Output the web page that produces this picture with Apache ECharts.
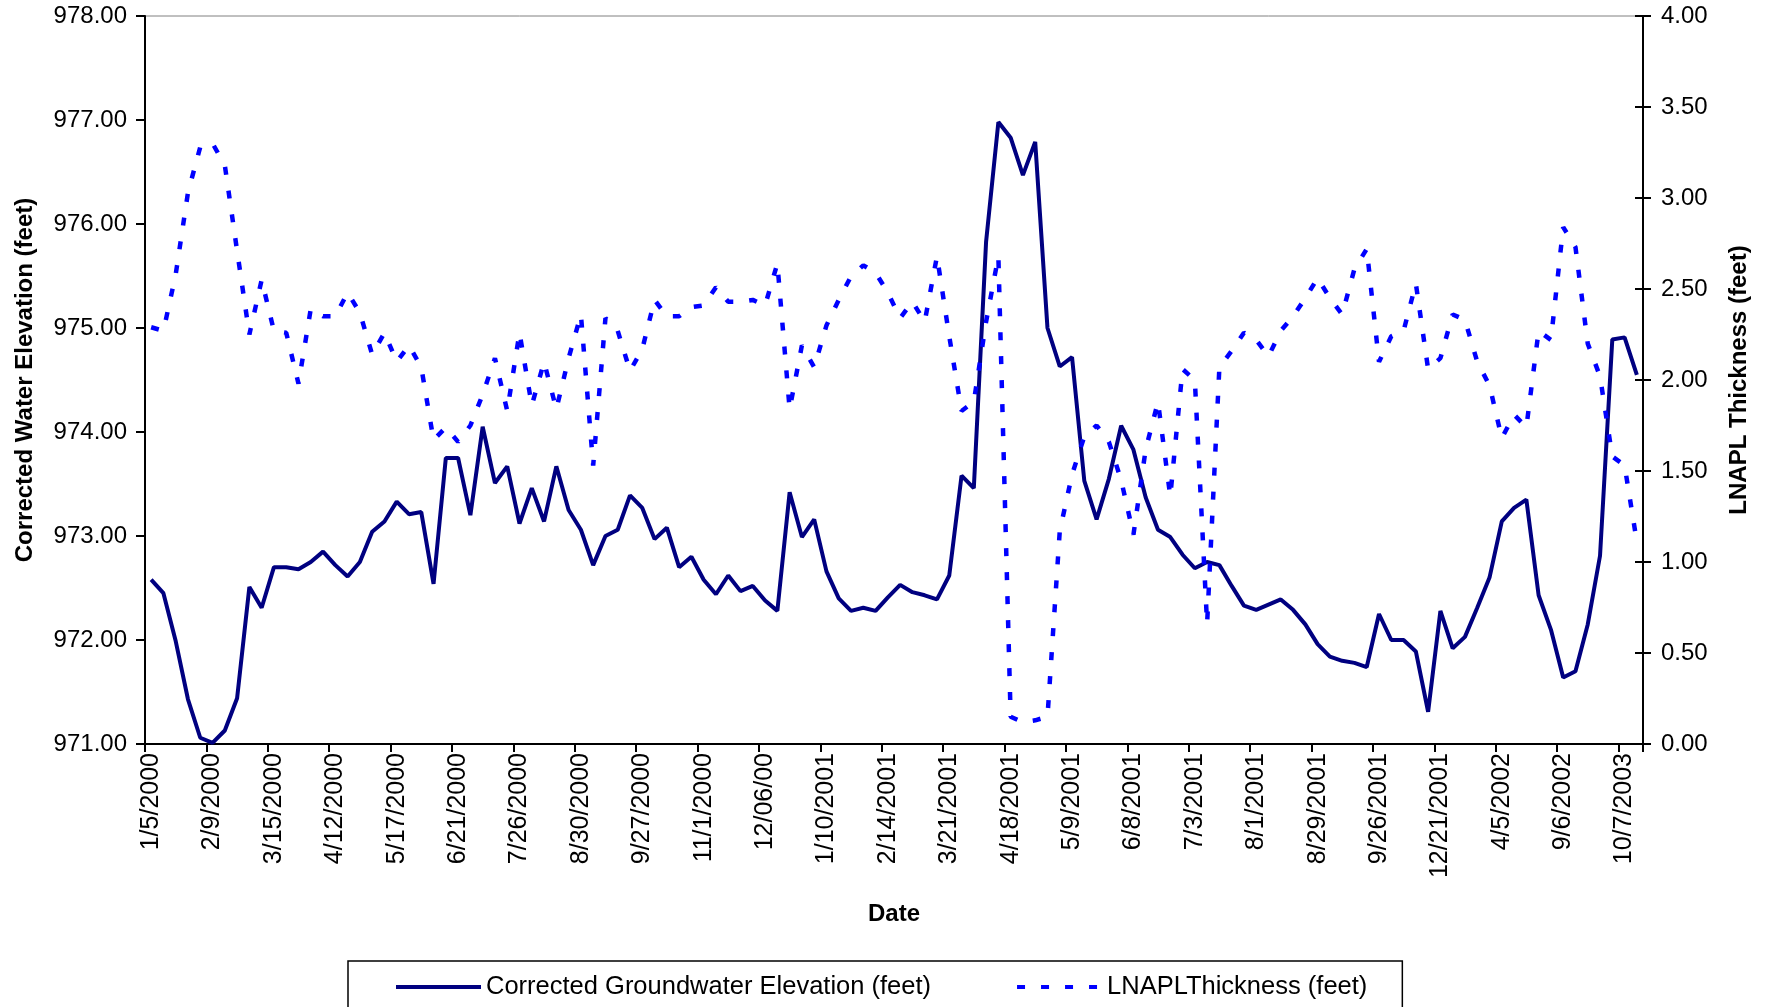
<!DOCTYPE html>
<html>
<head>
<meta charset="utf-8">
<script src="https://cdn.jsdelivr.net/npm/echarts@6/dist/echarts.min.js"></script>
<style>
html,body{margin:0;padding:0;background:#fff;}
#c{width:1767px;height:1007px;}
</style>
</head>
<body>
<div id="c"></div>
<script>
// Tick labels shown every 5th sampling event
const tickLabels = ['1/5/2000','2/9/2000','3/15/2000','4/12/2000','5/17/2000','6/21/2000','7/26/2000','8/30/2000','9/27/2000','11/1/2000','12/06/00','1/10/2001','2/14/2001','3/21/2001','4/18/2001','5/9/2001','6/8/2001','7/3/2001','8/1/2001','8/29/2001','9/26/2001','12/21/2001','4/5/2002','9/6/2002','10/7/2003'];

// Corrected groundwater elevation (feet), one value per sampling event
const elevation = [
972.58,972.45,971.99,971.43,971.06,971.01,971.13,971.44,972.51,972.31,
972.70,972.70,972.68,972.75,972.85,972.72,972.61,972.75,973.04,973.14,
973.33,973.21,973.23,972.54,973.75,973.75,973.20,974.05,973.51,973.67,
973.12,973.46,973.14,973.67,973.25,973.06,972.72,973.00,973.06,973.39,
973.27,972.97,973.08,972.70,972.80,972.58,972.44,972.62,972.47,972.52,
972.38,972.28,973.42,972.99,973.16,972.66,972.40,972.28,972.31,972.28,
972.41,972.53,972.46,972.43,972.39,972.62,973.58,973.46,975.83,976.98,
976.83,976.47,976.79,975.00,974.63,974.72,973.53,973.16,973.55,974.06,
973.83,973.37,973.06,972.99,972.82,972.69,972.75,972.72,972.52,972.33,
972.29,972.34,972.39,972.29,972.15,971.96,971.84,971.80,971.78,971.74,
972.25,972.00,972.00,971.89,971.31,972.28,971.92,972.03,972.31,972.60,
973.14,973.27,973.35,972.43,972.10,971.64,971.70,972.15,972.81,974.89,
974.91,974.55];

// LNAPL thickness (feet)
const lnapl = [
2.29,2.27,2.58,3.03,3.28,3.30,3.18,2.71,2.25,2.55,
2.27,2.26,1.98,2.39,2.35,2.35,2.48,2.37,2.14,2.26,
2.10,2.19,2.07,1.67,1.74,1.66,1.75,1.92,2.12,1.83,
2.26,1.86,2.10,1.84,2.12,2.36,1.53,2.34,2.27,2.05,
2.17,2.44,2.35,2.35,2.40,2.41,2.51,2.43,2.43,2.44,
2.41,2.64,1.84,2.19,2.07,2.30,2.44,2.57,2.63,2.59,
2.48,2.34,2.43,2.32,2.68,2.24,1.83,1.88,2.32,2.68,
0.15,0.12,0.13,0.15,1.17,1.48,1.69,1.75,1.66,1.45,
1.15,1.62,1.88,1.36,2.06,2.00,0.66,2.07,2.16,2.26,
2.22,2.13,2.27,2.35,2.45,2.56,2.45,2.36,2.61,2.72,
2.10,2.24,2.27,2.53,2.06,2.12,2.36,2.33,2.10,1.97,
1.68,1.81,1.74,2.27,2.22,2.84,2.73,2.20,2.02,1.58,
1.53,1.11];

const labelEvery = 5;
const categories = elevation.map((_, i) => String(i));

const FONT = 'Liberation Sans, Arial, sans-serif';
const chart = echarts.init(document.getElementById('c'), null, {renderer: 'canvas'});

const yCommon = {
  type: 'value',
  axisLine: {show: true, lineStyle: {color: '#000', width: 2}},
  axisTick: {show: true, length: 9, lineStyle: {color: '#000', width: 2}},
  splitLine: {show: false},
  axisLabel: {color: '#000', fontFamily: FONT, fontSize: 24, margin: 18},
  nameLocation: 'middle',
  nameRotate: 90,
  nameTextStyle: {color: '#000', fontFamily: FONT, fontSize: 24, fontWeight: 'bold'}
};

chart.setOption({
  animation: false,
  backgroundColor: '#fff',
  grid: {left: 145, right: 124, top: 16, bottom: 263, show: true, borderColor: '#808080', borderWidth: 1, backgroundColor: 'transparent'},
  legend: {
    left: 348, top: 961,
    padding: [13, 35, 40, 46],
    itemGap: 84,
    itemWidth: 85, itemHeight: 14,
    borderColor: '#000', borderWidth: 1.5,
    itemStyle: {opacity: 0},
    lineStyle: {width: 4},
    textStyle: {color: '#000', fontFamily: FONT, fontSize: 25.5},
    data: ['Corrected Groundwater Elevation (feet)', 'LNAPLThickness (feet)']
  },
  xAxis: {
    type: 'category',
    data: categories,
    boundaryGap: true,
    name: 'Date',
    nameLocation: 'middle',
    nameGap: 158,
    nameTextStyle: {color: '#000', fontFamily: FONT, fontSize: 24, fontWeight: 'bold'},
    axisLine: {show: true, lineStyle: {color: '#000', width: 2}},
    axisTick: {show: true, interval: labelEvery - 1, length: 8, lineStyle: {color: '#000', width: 2}},
    axisLabel: {
      interval: labelEvery - 1, rotate: 90, margin: 9,
      color: '#000', fontFamily: FONT, fontSize: 25,
      formatter: (v, idx) => (idx % labelEvery === 0 ? tickLabels[idx / labelEvery] : '')
    },
    splitLine: {show: false}
  },
  yAxis: [
    Object.assign({}, yCommon, {
      position: 'left', min: 971, max: 978, interval: 1,
      name: 'Corrected Water Elevation (feet)', nameGap: 108,
      axisLabel: Object.assign({}, yCommon.axisLabel, {formatter: v => v.toFixed(2)})
    }),
    Object.assign({}, yCommon, {
      position: 'right', min: 0, max: 4, interval: 0.5,
      name: 'LNAPL Thickness (feet)', nameGap: 84,
      axisTick: {show: true, length: 8, lineStyle: {color: '#000', width: 2}},
      axisLabel: Object.assign({}, yCommon.axisLabel, {formatter: v => v.toFixed(2)})
    }),
    // inner half of the crossing tick marks on the right axis
    {
      type: 'value', position: 'right', min: 0, max: 4, interval: 0.5,
      axisLine: {show: false},
      axisTick: {show: true, inside: true, length: 8, lineStyle: {color: '#000', width: 2}},
      axisLabel: {show: false}, splitLine: {show: false}
    }
  ],
  series: [
    {
      name: 'Corrected Groundwater Elevation (feet)',
      type: 'line', yAxisIndex: 0, data: elevation,
      symbol: 'none', showSymbol: false,
      lineStyle: {color: '#000080', width: 4},
      itemStyle: {color: '#000080'}
    },
    {
      name: 'LNAPLThickness (feet)',
      type: 'line', yAxisIndex: 1, data: lnapl,
      symbol: 'none', showSymbol: false,
      lineStyle: {color: '#0000FF', width: 4.5, type: [8, 16]},
      itemStyle: {color: '#0000FF'}
    }
  ]
});
</script>
</body>
</html>
